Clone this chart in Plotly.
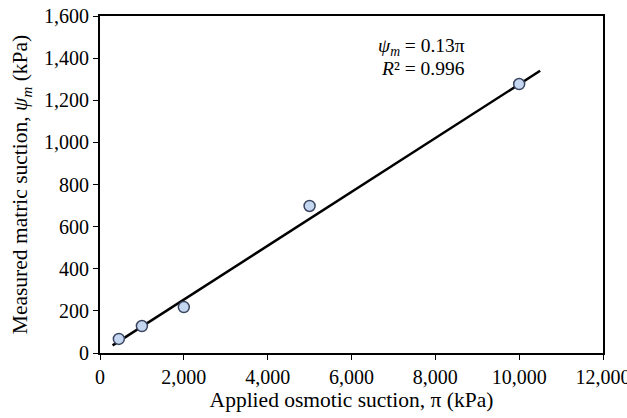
import plotly.graph_objects as go

# Data
applied_suction = [450, 1000, 2000, 5000, 10000]
measured_suction = [67, 128, 218, 698, 1277]
fit_x = [300, 10500]
fit_y = [36, 1340]
x_ticks = [0, 2000, 4000, 6000, 8000, 10000, 12000]
y_ticks = [0, 200, 400, 600, 800, 1000, 1200, 1400, 1600]

FONT = "Liberation Serif"

fig = go.Figure()
fig.add_trace(go.Scatter(
    x=fit_x, y=fit_y, mode="lines",
    line=dict(color="black", width=2.5), showlegend=False, hoverinfo="skip"))
fig.add_trace(go.Scatter(
    x=applied_suction, y=measured_suction, mode="markers",
    marker=dict(size=11, color="#c5d6f0", line=dict(color="#3a4660", width=1.5)),
    showlegend=False))

fig.add_annotation(
    x=7680, y=1452, xref="x", yref="y", showarrow=False,
    text="<i>ψ<sub>m</sub></i> = 0.13π",
    font=dict(family=FONT, size=19.5, color="black"))
fig.add_annotation(
    x=7700, y=1350, xref="x", yref="y", showarrow=False,
    text="<i>R</i>² = 0.996",
    font=dict(family=FONT, size=19.5, color="black"))

axis_common = dict(
    showgrid=False, zeroline=False, showline=True, linecolor="black", linewidth=2,
    mirror=True, ticks="outside", ticklen=5, tickwidth=1, tickcolor="black",
    tickfont=dict(family=FONT, size=20, color="black"),
    tickformat=",d", automargin=False)

fig.update_xaxes(range=[0, 12000], tickvals=x_ticks, ticklabeloverflow="allow",
                 **axis_common,
                 title=dict(text="Applied osmotic suction, π (kPa)",
                            font=dict(family=FONT, size=21.5, color="black"), standoff=4))
fig.update_yaxes(range=[0, 1600], tickvals=y_ticks, ticklabeloverflow="allow",
                 **axis_common,
                 title=dict(text="Measured matric suction, <i>ψ<sub>m</sub></i> (kPa)",
                            font=dict(family=FONT, size=21.5, color="black"), standoff=10))

fig.update_layout(
    width=627, height=418,
    margin=dict(l=100, r=24, t=16, b=65),
    paper_bgcolor="white", plot_bgcolor="white",
    font=dict(family=FONT, color="black"))

fig.write_html("out.html")
